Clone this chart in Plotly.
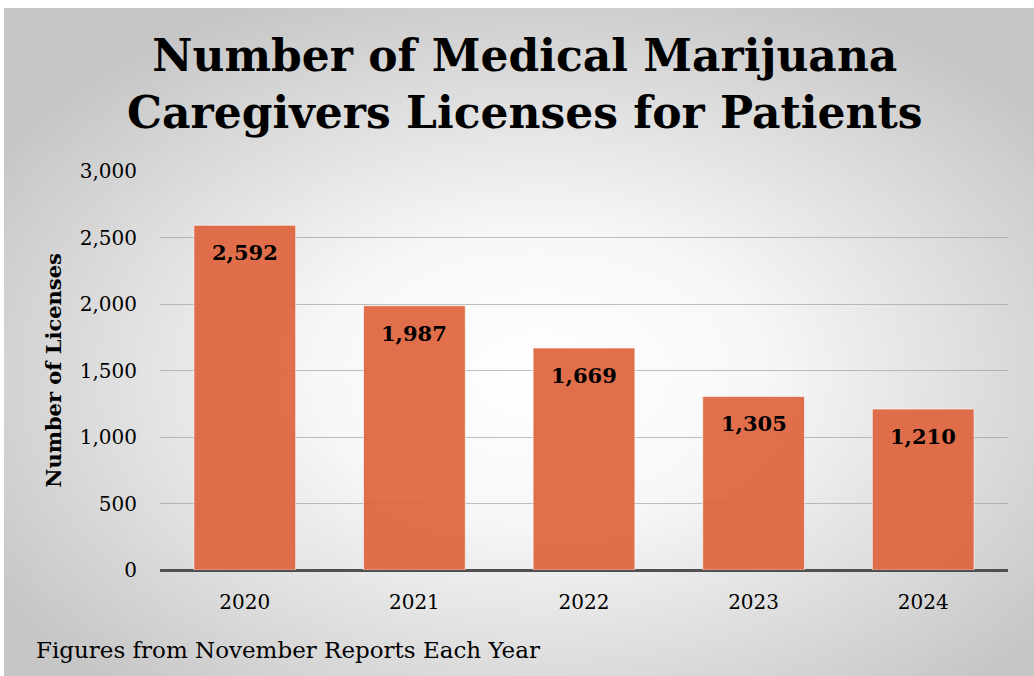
import base64
import plotly.graph_objects as go

# Caregiver licence counts, November reports
years = ["2020", "2021", "2022", "2023", "2024"]
licenses = [2592, 1987, 1669, 1305, 1210]
y_ticks = [0, 500, 1000, 1500, 2000, 2500, 3000]

W, H = 1034, 676
ML, MR, MT, MB = 160, 26, 171, 106
PW, PH = W - ML - MR, H - MT - MB

SERIF = "Georgia, 'DejaVu Serif', serif"
BAR = "rgba(224,100,62,0.93)"

# radial grey-to-white backdrop as an inline SVG image
svg = (
    '<svg xmlns="http://www.w3.org/2000/svg" width="1030" height="668" '
    'preserveAspectRatio="none" viewBox="0 0 1030 668">'
    '<defs><radialGradient id="g" cx="52%" cy="55%" r="62%">'
    '<stop offset="0%" stop-color="#ffffff"/>'
    '<stop offset="35%" stop-color="#f7f7f7"/>'
    '<stop offset="100%" stop-color="#c6c6c6"/>'
    '</radialGradient></defs>'
    '<rect width="1030" height="668" fill="url(#g)"/></svg>'
)
bg_src = "data:image/svg+xml;base64," + base64.b64encode(svg.encode()).decode()


def px_x(px):
    return (px - ML) / PW


def px_y(py):
    return (H - py - MB) / PH


fig = go.Figure()
fig.add_trace(
    go.Bar(
        x=years,
        y=licenses,
        marker=dict(color=BAR, line=dict(color="rgba(255,255,255,0.6)", width=1)),
        hoverinfo="skip",
    )
)

# value labels sitting just inside the top of each bar
for i, v in enumerate(licenses):
    fig.add_annotation(
        x=i, y=v, xref="x", yref="y", text=f"<b>{v:,}</b>", showarrow=False,
        yanchor="top", yshift=-13,
        font=dict(family=SERIF, size=21, color="#000000"),
    )

fig.add_layout_image(
    dict(
        source=bg_src, xref="paper", yref="paper",
        x=px_x(4), y=px_y(8), sizex=px_x(W) - px_x(4), sizey=px_y(8) - px_y(H),
        xanchor="left", yanchor="top", sizing="stretch", layer="below",
    )
)

fig.add_annotation(
    text="<b>Number of Medical Marijuana<br>Caregivers Licenses for Patients</b>",
    xref="paper", yref="paper", x=px_x(525), y=px_y(28),
    xanchor="center", yanchor="top", showarrow=False, align="center",
    font=dict(family=SERIF, size=44, color="#000000"),
)

fig.add_annotation(
    text="Figures from November Reports Each Year",
    xref="paper", yref="paper", x=px_x(34), y=px_y(650),
    xanchor="left", yanchor="middle", showarrow=False,
    font=dict(family=SERIF, size=23, color="#000000"),
)

fig.update_layout(
    width=W, height=H,
    margin=dict(l=ML, r=MR, t=MT, b=MB, pad=0),
    paper_bgcolor="#ffffff",
    plot_bgcolor="rgba(0,0,0,0)",
    bargap=0.4,
    showlegend=False,
    xaxis=dict(
        type="category",
        range=[-0.5, 4.5], showgrid=False, showline=False, ticks="",
        tickfont=dict(family=SERIF, size=20, color="#000000"),
        ticklabelstandoff=18,
    ),
    yaxis=dict(
        range=[0, 3000], tickvals=y_ticks, ticktext=[f"{t:,}" for t in y_ticks],
        showgrid=True, gridcolor="rgba(150,150,150,0.6)", gridwidth=1.3,
        zeroline=True, zerolinecolor="#505050", zerolinewidth=3,
        showline=False, ticks="",
        tickfont=dict(family=SERIF, size=20, color="#000000"),
        ticklabelstandoff=22,
        title=dict(
            text="<b>Number of Licenses</b>", standoff=12,
            font=dict(family=SERIF, size=21, color="#000000"),
        ),
    ),
)

fig.write_html("out.html")
